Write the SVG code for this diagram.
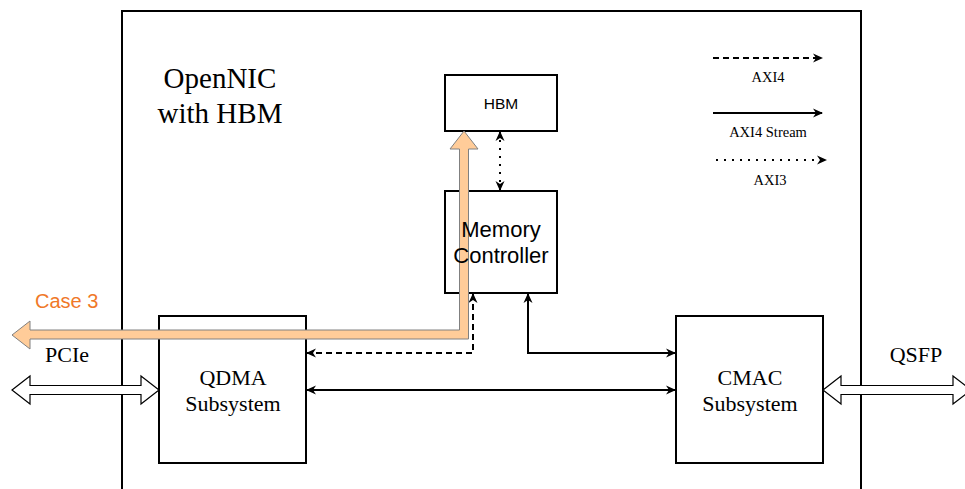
<svg xmlns="http://www.w3.org/2000/svg" width="965" height="489" viewBox="0 0 965 489">
<defs>
<style>
.box{fill:#fff;stroke:#000;stroke-width:2}
.ln{fill:none;stroke:#000;stroke-width:2}
.dash{stroke-dasharray:6 4}
.dot{stroke-dasharray:2 6}
.tm{font-family:"Liberation Serif",serif;fill:#000;text-anchor:middle}
.ar{font-family:"Liberation Sans",Arial,sans-serif;fill:#000;text-anchor:middle}
.blk{fill:#fff;stroke:#000;stroke-width:1.2}
</style>
<marker id="a" viewBox="0 0 10 10" refX="9" refY="5" markerWidth="10" markerHeight="10" markerUnits="userSpaceOnUse" orient="auto-start-reverse">
<path d="M0,0.5 L10,5 L0,9.5 L3,5 z" fill="#000"/>
</marker>
</defs>
<rect x="122" y="11" width="739" height="490" fill="#fff" stroke="#000" stroke-width="2"/>
<text class="tm" x="220" y="88" font-size="29">OpenNIC</text>
<text class="tm" x="220" y="123" font-size="29">with HBM</text>

<g id="legend">
<line class="ln dash" x1="713" y1="58" x2="822" y2="58" marker-end="url(#a)"/>
<text class="tm" x="768" y="82" font-size="14.5">AXI4</text>
<line class="ln" x1="713" y1="113" x2="822" y2="113" marker-end="url(#a)"/>
<text class="tm" x="768" y="137" font-size="14.5">AXI4 Stream</text>
<line class="ln dot" x1="716" y1="160" x2="826" y2="160" marker-end="url(#a)"/>
<text class="tm" x="770" y="185" font-size="14.5">AXI3</text>
</g>

<g id="hbm">
<rect class="box" x="445" y="75" width="112" height="56"/>
<text class="ar" x="501" y="109" font-size="15.5">HBM</text>
</g>
<g id="memctrl">
<rect class="box" x="445" y="191" width="112" height="102"/>
</g>
<g id="qdma">
<rect class="box" x="159" y="316" width="147" height="147"/>
<text class="tm" x="233" y="385" font-size="22">QDMA</text>
<text class="tm" x="233" y="411" font-size="22">Subsystem</text>
</g>
<g id="cmac">
<rect class="box" x="676" y="316" width="147" height="147"/>
<text class="tm" x="750" y="385" font-size="22">CMAC</text>
<text class="tm" x="750" y="411" font-size="22">Subsystem</text>
</g>

<g id="connectors">
<line class="ln dot" x1="500" y1="132" x2="500" y2="190" marker-start="url(#a)" marker-end="url(#a)"/>
<polyline class="ln dash" points="473,294 473,353 307,353" marker-start="url(#a)" marker-end="url(#a)"/>
<polyline class="ln" points="528,294 528,353 675,353" marker-start="url(#a)" marker-end="url(#a)"/>
<line class="ln" x1="307" y1="390" x2="675" y2="390" marker-start="url(#a)" marker-end="url(#a)"/>
<path class="blk" d="M12,390 L30,376 L30,385.5 L141,385.5 L141,376 L159,390 L141,404 L141,394.5 L30,394.5 L30,404 Z"/>
<path class="blk" d="M823,390 L841,376 L841,385.5 L953,385.5 L953,376 L971,390 L953,404 L953,394.5 L841,394.5 L841,404 Z"/>
<path d="M12,335 L30,321 L30,330 L459.5,330 L459.5,149 L450,149 L464,131 L478,149 L468.5,149 L468.5,339 L30,339 L30,349 Z" fill="#FFCC99" stroke="#808080" stroke-width="1"/>
</g>
<g id="memctrl-label">
<text class="ar" x="501" y="237" font-size="22">Memory</text>
<text class="ar" x="501" y="263" font-size="22">Controller</text>
</g>
<text x="35" y="308" font-family="Liberation Sans,Arial,sans-serif" font-size="20" fill="#F07828">Case 3</text>
<text class="tm" x="67" y="362" font-size="22">PCIe</text>
<text class="tm" x="916" y="362" font-size="22">QSFP</text>
</svg>
